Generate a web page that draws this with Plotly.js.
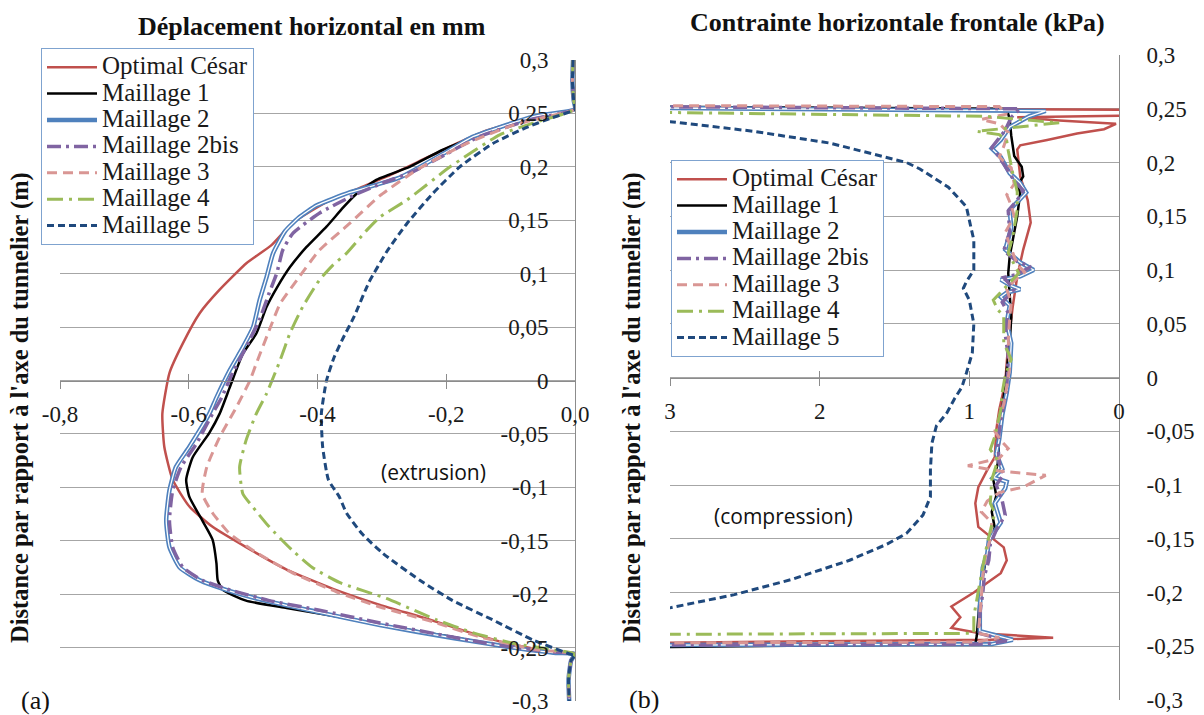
<!DOCTYPE html>
<html><head><meta charset="utf-8">
<script src="https://cdn.plot.ly/plotly-3.0.1.min.js"></script>
<style>html,body{margin:0;padding:0;background:#fff}#chart{width:1204px;height:715px}</style>
</head><body><div id="chart"></div>
<script>
// ---------- DATA ----------
const seriesNames = ["Optimal César","Maillage 1","Maillage 2","Maillage 2bis","Maillage 3","Maillage 4","Maillage 5"];

// (a) horizontal displacement (mm) vs distance (m): [x, y]
const dispCesar = [[-0.003,0.300],[-0.004,0.280],[-0.002,0.262],[0.000,0.254],[-0.065,0.246],[-0.137,0.234],[-0.194,0.219],[-0.246,0.204],[-0.292,0.191],[-0.339,0.179],[-0.386,0.167],[-0.438,0.148],[-0.471,0.127],[-0.510,0.110],[-0.552,0.085],[-0.583,0.063],[-0.609,0.035],[-0.630,0.007],[-0.641,-0.031],[-0.638,-0.062],[-0.625,-0.093],[-0.599,-0.118],[-0.563,-0.137],[-0.511,-0.156],[-0.448,-0.177],[-0.376,-0.195],[-0.303,-0.210],[-0.230,-0.223],[-0.163,-0.236],[-0.106,-0.246],[-0.034,-0.254],[0.000,-0.256],[-0.006,-0.262],[-0.010,-0.280],[-0.009,-0.300]];
const dispM1 = [[-0.003,0.300],[-0.004,0.280],[-0.002,0.262],[0.000,0.254],[-0.060,0.246],[-0.117,0.237],[-0.205,0.216],[-0.257,0.200],[-0.308,0.188],[-0.339,0.175],[-0.360,0.162],[-0.386,0.144],[-0.417,0.125],[-0.443,0.106],[-0.463,0.087],[-0.479,0.069],[-0.495,0.044],[-0.516,0.025],[-0.536,-0.006],[-0.552,-0.031],[-0.568,-0.049],[-0.594,-0.072],[-0.604,-0.093],[-0.599,-0.109],[-0.579,-0.131],[-0.563,-0.149],[-0.557,-0.171],[-0.555,-0.187],[-0.547,-0.196],[-0.511,-0.206],[-0.448,-0.213],[-0.370,-0.221],[-0.303,-0.229],[-0.190,-0.240],[-0.112,-0.249],[-0.034,-0.255],[0.000,-0.256],[-0.006,-0.262],[-0.010,-0.280],[-0.009,-0.300]];
const dispM2 = [[-0.003,0.300],[-0.004,0.280],[-0.002,0.262],[0.000,0.254],[-0.065,0.247],[-0.159,0.228],[-0.194,0.216],[-0.272,0.190],[-0.350,0.176],[-0.401,0.164],[-0.428,0.153],[-0.450,0.140],[-0.469,0.119],[-0.479,0.097],[-0.490,0.075],[-0.500,0.050],[-0.516,0.031],[-0.536,0.010],[-0.557,-0.016],[-0.568,-0.031],[-0.599,-0.062],[-0.620,-0.081],[-0.630,-0.103],[-0.635,-0.131],[-0.630,-0.156],[-0.614,-0.175],[-0.583,-0.187],[-0.542,-0.196],[-0.475,-0.207],[-0.397,-0.217],[-0.303,-0.229],[-0.190,-0.241],[-0.086,-0.251],[-0.030,-0.255],[0.000,-0.256],[-0.006,-0.262],[-0.010,-0.280],[-0.009,-0.300]];
const dispM2bis = [[-0.003,0.300],[-0.004,0.280],[-0.002,0.262],[0.000,0.254],[-0.070,0.244],[-0.150,0.228],[-0.200,0.212],[-0.250,0.196],[-0.298,0.185],[-0.345,0.173],[-0.396,0.157],[-0.438,0.138],[-0.454,0.122],[-0.463,0.101],[-0.475,0.082],[-0.490,0.057],[-0.511,0.031],[-0.532,0.007],[-0.549,-0.016],[-0.563,-0.031],[-0.588,-0.059],[-0.612,-0.081],[-0.625,-0.103],[-0.630,-0.131],[-0.625,-0.156],[-0.609,-0.175],[-0.579,-0.187],[-0.536,-0.196],[-0.475,-0.206],[-0.397,-0.215],[-0.303,-0.227],[-0.137,-0.246],[-0.039,-0.254],[0.000,-0.256],[-0.006,-0.262],[-0.010,-0.280],[-0.009,-0.300]];
const dispM3 = [[-0.003,0.300],[-0.004,0.280],[-0.002,0.262],[0.000,0.254],[-0.050,0.246],[-0.096,0.239],[-0.168,0.222],[-0.246,0.197],[-0.303,0.173],[-0.350,0.147],[-0.397,0.122],[-0.432,0.094],[-0.458,0.072],[-0.475,0.047],[-0.495,0.016],[-0.505,0.000],[-0.526,-0.025],[-0.552,-0.053],[-0.572,-0.081],[-0.579,-0.106],[-0.563,-0.124],[-0.537,-0.143],[-0.495,-0.161],[-0.439,-0.180],[-0.370,-0.198],[-0.303,-0.212],[-0.220,-0.226],[-0.148,-0.240],[-0.059,-0.252],[0.000,-0.256],[-0.006,-0.262],[-0.010,-0.280],[-0.009,-0.300]];
const dispM4 = [[-0.003,0.300],[-0.004,0.280],[-0.002,0.262],[0.000,0.254],[-0.060,0.242],[-0.117,0.230],[-0.194,0.200],[-0.261,0.169],[-0.303,0.153],[-0.323,0.141],[-0.355,0.119],[-0.376,0.108],[-0.397,0.094],[-0.423,0.069],[-0.443,0.044],[-0.458,0.019],[-0.479,-0.012],[-0.495,-0.031],[-0.511,-0.056],[-0.521,-0.081],[-0.516,-0.106],[-0.501,-0.118],[-0.475,-0.137],[-0.439,-0.159],[-0.408,-0.175],[-0.366,-0.189],[-0.293,-0.204],[-0.215,-0.224],[-0.159,-0.236],[-0.096,-0.246],[-0.034,-0.252],[0.000,-0.256],[-0.006,-0.262],[-0.010,-0.280],[-0.009,-0.300]];
const dispM5 = [[-0.003,0.300],[-0.004,0.280],[-0.002,0.262],[0.000,0.254],[-0.040,0.245],[-0.075,0.237],[-0.127,0.222],[-0.179,0.200],[-0.221,0.175],[-0.261,0.147],[-0.292,0.121],[-0.320,0.092],[-0.343,0.060],[-0.360,0.040],[-0.374,0.022],[-0.386,0.000],[-0.394,-0.031],[-0.392,-0.062],[-0.383,-0.093],[-0.366,-0.109],[-0.355,-0.124],[-0.330,-0.144],[-0.298,-0.162],[-0.241,-0.187],[-0.190,-0.206],[-0.128,-0.224],[-0.065,-0.243],[-0.003,-0.257],[0.000,-0.257],[-0.006,-0.262],[-0.010,-0.280],[-0.009,-0.300]];

// (b) frontal horizontal stress (kPa) vs distance (m): [x, y]
const stressCesar = [[3.3,0.251],[0.68,0.250],[-0.2,0.249],[-0.2,0.244],[0.68,0.242],[0.40,0.239],[0.02,0.236],[0.10,0.231],[0.28,0.227],[0.48,0.221],[0.66,0.216],[0.68,0.212],[0.66,0.187],[0.61,0.165],[0.59,0.144],[0.64,0.119],[0.68,0.094],[0.71,0.066],[0.74,0.032],[0.76,-0.005],[0.80,-0.030],[0.82,-0.049],[0.83,-0.074],[0.88,-0.086],[0.94,-0.102],[0.96,-0.117],[0.94,-0.139],[0.86,-0.148],[0.77,-0.158],[0.75,-0.170],[0.79,-0.182],[0.88,-0.191],[0.97,-0.200],[1.12,-0.213],[1.06,-0.223],[1.12,-0.233],[0.93,-0.238],[0.44,-0.242],[0.86,-0.244],[3.3,-0.247]];
const stressM1 = [[3.3,0.252],[0.75,0.250],[0.73,0.240],[0.72,0.225],[0.70,0.206],[0.65,0.196],[0.64,0.187],[0.68,0.178],[0.66,0.172],[0.68,0.150],[0.70,0.135],[0.73,0.113],[0.74,0.097],[0.73,0.075],[0.72,0.056],[0.73,0.032],[0.76,-0.005],[0.78,-0.030],[0.80,-0.055],[0.81,-0.080],[0.84,-0.095],[0.82,-0.110],[0.85,-0.125],[0.83,-0.140],[0.87,-0.155],[0.89,-0.170],[0.91,-0.185],[0.93,-0.205],[0.94,-0.225],[0.95,-0.240],[0.96,-0.248],[3.3,-0.251]];
const stressM2 = [[3.3,0.251],[0.49,0.248],[0.60,0.243],[0.73,0.233],[0.79,0.221],[0.85,0.213],[0.79,0.205],[0.73,0.190],[0.66,0.181],[0.62,0.172],[0.66,0.166],[0.73,0.156],[0.72,0.139],[0.76,0.119],[0.66,0.107],[0.57,0.100],[0.66,0.094],[0.79,0.091],[0.73,0.086],[0.66,0.082],[0.75,0.079],[0.79,0.075],[0.73,0.067],[0.75,0.051],[0.72,0.032],[0.73,0.005],[0.75,-0.014],[0.78,-0.035],[0.80,-0.057],[0.82,-0.071],[0.78,-0.085],[0.84,-0.093],[0.75,-0.097],[0.76,-0.103],[0.83,-0.117],[0.79,-0.135],[0.83,-0.143],[0.87,-0.152],[0.88,-0.164],[0.91,-0.177],[0.92,-0.195],[0.93,-0.213],[0.93,-0.236],[0.71,-0.244],[0.85,-0.248],[3.3,-0.249]];
const stressM2bis = [[3.3,0.252],[0.66,0.250],[0.72,0.242],[0.76,0.230],[0.85,0.214],[0.80,0.205],[0.74,0.192],[0.70,0.183],[0.64,0.174],[0.68,0.165],[0.74,0.155],[0.73,0.135],[0.77,0.118],[0.68,0.108],[0.59,0.103],[0.68,0.096],[0.77,0.093],[0.70,0.082],[0.78,0.070],[0.74,0.060],[0.76,0.040],[0.74,0.020],[0.75,-0.010],[0.79,-0.040],[0.81,-0.060],[0.80,-0.080],[0.77,-0.090],[0.82,-0.100],[0.78,-0.115],[0.76,-0.128],[0.82,-0.142],[0.86,-0.155],[0.87,-0.170],[0.90,-0.185],[0.91,-0.200],[0.93,-0.220],[0.93,-0.238],[0.75,-0.245],[0.90,-0.248],[3.3,-0.249]];
const stressM3 = [[3.3,0.253],[0.80,0.252],[0.75,0.245],[0.92,0.240],[0.80,0.236],[0.74,0.228],[0.77,0.215],[0.80,0.205],[0.72,0.195],[0.70,0.180],[0.75,0.170],[0.72,0.160],[0.70,0.150],[0.76,0.135],[0.72,0.120],[0.68,0.105],[0.63,0.098],[0.70,0.090],[0.75,0.082],[0.72,0.070],[0.73,0.055],[0.74,0.035],[0.73,0.010],[0.74,0.000],[0.77,-0.025],[0.83,-0.050],[0.78,-0.060],[0.74,-0.066],[0.80,-0.075],[1.01,-0.082],[0.80,-0.087],[0.49,-0.091],[0.64,-0.102],[0.80,-0.107],[0.88,-0.115],[0.92,-0.125],[0.85,-0.135],[0.86,-0.150],[0.89,-0.165],[0.91,-0.185],[0.92,-0.205],[0.93,-0.225],[0.94,-0.238],[0.80,-0.242],[0.95,-0.246],[3.3,-0.247]];
const stressM4 = [[3.3,0.247],[0.90,0.243],[0.40,0.237],[0.95,0.229],[0.80,0.226],[0.75,0.220],[0.74,0.211],[0.71,0.190],[0.68,0.173],[0.68,0.156],[0.71,0.131],[0.74,0.116],[0.67,0.097],[0.84,0.072],[0.81,0.063],[0.77,0.057],[0.77,0.032],[0.72,0.017],[0.76,0.002],[0.78,-0.014],[0.79,-0.030],[0.83,-0.055],[0.86,-0.067],[0.81,-0.077],[0.85,-0.095],[0.86,-0.117],[0.83,-0.126],[0.88,-0.154],[0.91,-0.176],[0.93,-0.191],[0.95,-0.207],[0.97,-0.222],[0.97,-0.238],[3.3,-0.239]];
const stressM5 = [[3.3,0.242],[3.0,0.238],[2.44,0.229],[1.93,0.218],[1.42,0.200],[1.33,0.194],[1.14,0.177],[1.02,0.159],[0.99,0.140],[0.97,0.128],[0.97,0.100],[1.02,0.089],[1.04,0.083],[1.00,0.072],[0.97,0.050],[0.98,0.023],[1.02,0.004],[1.05,-0.009],[1.10,-0.020],[1.15,-0.033],[1.22,-0.045],[1.25,-0.061],[1.26,-0.086],[1.26,-0.111],[1.31,-0.128],[1.42,-0.145],[1.55,-0.155],[1.80,-0.170],[2.19,-0.188],[2.57,-0.202],[2.99,-0.214],[3.3,-0.218]];

// tick labels
const dispTickVals = [-0.8,-0.6,-0.4,-0.2,0];
const dispTickText = ["-0,8","-0,6","-0,4","-0,2","0,0"];
const stressTickVals = [3,2,1,0];
const stressTickText = ["3","2","1","0"];
const yTickVals = [0.3,0.25,0.2,0.15,0.1,0.05,0,-0.05,-0.1,-0.15,-0.2,-0.25,-0.3];
const yTickText = ["0,3","0,25","0,2","0,15","0,1","0,05","0","-0,05","-0,1","-0,15","-0,2","-0,25","-0,3"];

// ---------- STYLE ----------
const SERIF = "Liberation Serif";
const styles = [
  {color:"#C0504D", width:2.5, dash:"solid"},
  {color:"#000000", width:2.5, dash:"solid"},
  {color:"#4F81BD", width:4.5, dash:"solid", inner:true},
  {color:"#8064A2", width:3.5, dash:"14px,5px,3px,5px"},
  {color:"#D99694", width:3, dash:"10px,6px"},
  {color:"#9BBB59", width:3, dash:"16px,6px,3px,6px"},
  {color:"#1F497D", width:3, dash:"7px,4px"}
];
const dispSeries = [dispCesar, dispM1, dispM2, dispM2bis, dispM3, dispM4, dispM5];
const stressSeries = [stressCesar, stressM1, stressM2, stressM2bis, stressM3, stressM4, stressM5];

const traces = [];
function addSeries(list, xa, ya, leg, shape){
  list.forEach((pts,i)=>{
    const s = styles[i];
    const xs = pts.map(p=>p[0]), ys = pts.map(p=>p[1]);
    traces.push({type:"scatter", mode:"lines", x:xs, y:ys, xaxis:xa, yaxis:ya,
      name:'<span style="font-size:25px">' + seriesNames[i] + '</span>', legend:leg, hoverinfo:"skip",
      line:{color:s.color, width:s.width, dash:s.dash, shape:shape, smoothing:0.5}});
    if(s.inner){
      traces.push({type:"scatter", mode:"lines", x:xs, y:ys, xaxis:xa, yaxis:ya,
        showlegend:false, legend:leg, hoverinfo:"skip",
        line:{color:"#ffffff", width:1.3, shape:shape, smoothing:0.5}});
    }
  });
}
addSeries(dispSeries, "x", "y", "legend", "spline");
addSeries(stressSeries, "x2", "y2", "legend2", "linear");
// empty traces carrying the overlay axes that draw the upper half of the crossing tick marks
traces.push({type:"scatter", x:[], y:[], xaxis:"x3", yaxis:"y", showlegend:false});
traces.push({type:"scatter", x:[], y:[], xaxis:"x4", yaxis:"y2", showlegend:false});

const tickFont = () => ({family:SERIF, size:23, color:"#1a1a1a"});
const AX = "#8c8c8c";
const GRID = "#a6a6a6";

const leftDom = [60/1204, 575/1204];
const rightDom = [670/1204, 1119/1204];
const leftX0 = (715-380.5)/715;
const rightX0 = (715-377.5)/715;

function ann(text, px, py, size, extra){
  return Object.assign({text:text, xref:"paper", yref:"paper", x:px/1204, y:(715-py)/715,
    xanchor:"center", yanchor:"middle", showarrow:false,
    font:{family:SERIF, size:size, color:"#111"}}, extra||{});
}
const legendStyle = (px, py) => ({x:px/1204, y:(715-py)/715, xanchor:"left", yanchor:"top", bgcolor:"#fff",
    bordercolor:"#7fa3cf", borderwidth:1, font:{family:SERIF, size:18, color:"#1a1a1a"},
    itemwidth:50, tracegroupgap:0});

const layout = {
  width:1204, height:715,
  margin:{l:0,r:0,t:0,b:0,pad:0},
  font:{family:SERIF, size:20, color:"#1a1a1a"},
  paper_bgcolor:"#fff", plot_bgcolor:"rgba(0,0,0,0)",
  showlegend:true,
  xaxis:{domain:leftDom, range:[-0.8,0], anchor:"free", position:leftX0,
    showgrid:false, zeroline:false, showline:true, linecolor:AX, linewidth:1,
    ticks:"outside", ticklen:7, tickcolor:AX, tickvals:dispTickVals, ticktext:dispTickText,
    tickfont:tickFont(), ticklabelstandoff:6},
  xaxis3:{overlaying:"x", range:[-0.8,0], anchor:"free", position:leftX0,
    showgrid:false, zeroline:false, showline:false, ticks:"inside", ticklen:7, tickcolor:AX,
    tickvals:dispTickVals, showticklabels:false},
  yaxis:{domain:[(715-701)/715,(715-60)/715], range:[-0.3,0.3], anchor:"free", position:575/1204, side:"left",
    showgrid:true, gridcolor:GRID, gridwidth:1, zeroline:false, showline:true, linecolor:AX,
    ticks:"", tickvals:yTickVals, ticktext:yTickText,
    ticklabelstandoff:22, tickfont:tickFont()},
  xaxis2:{domain:rightDom, range:[3,0], anchor:"free", position:rightX0,
    showgrid:false, zeroline:false, showline:true, linecolor:AX, linewidth:1,
    ticks:"outside", ticklen:7, tickcolor:AX, tickvals:stressTickVals, ticktext:stressTickText,
    tickfont:tickFont(), ticklabelstandoff:6},
  xaxis4:{overlaying:"x2", range:[3,0], anchor:"free", position:rightX0,
    showgrid:false, zeroline:false, showline:false, ticks:"inside", ticklen:7, tickcolor:AX,
    tickvals:stressTickVals, showticklabels:false},
  yaxis2:{domain:[(715-700)/715,(715-55)/715], range:[-0.3,0.3], anchor:"x2", side:"right",
    showgrid:true, gridcolor:GRID, gridwidth:1, zeroline:false, showline:true, linecolor:AX,
    ticks:"", tickvals:yTickVals, ticktext:yTickText, ticklabelstandoff:22, tickfont:tickFont()},
  legend:legendStyle(41, 48),
  legend2:legendStyle(671, 160),
  annotations:[
    ann("<b>Déplacement horizontal en mm</b>", 312, 27, 26),
    ann("<b>Contrainte horizontale frontale (kPa)</b>", 897, 22, 26),
    ann("<b>Distance par rapport à l'axe du tunnelier (m)</b>", 20, 408, 24.5, {textangle:-90}),
    ann("<b>Distance par rapport à l'axe du tunnelier (m)</b>", 632, 408, 24.5, {textangle:-90}),
    ann("(extrusion)", 434, 472, 21, {font:{family:"Open Sans", size:21, color:"#111"}}),
    ann("(compression)", 783, 516, 21, {font:{family:"Open Sans", size:21, color:"#111"}}),
    ann("(a)", 35, 700, 26),
    ann("(b)", 644, 699, 26)
  ]
};

Plotly.newPlot("chart", traces, layout, {staticPlot:true, displayModeBar:false});
</script></body></html>
